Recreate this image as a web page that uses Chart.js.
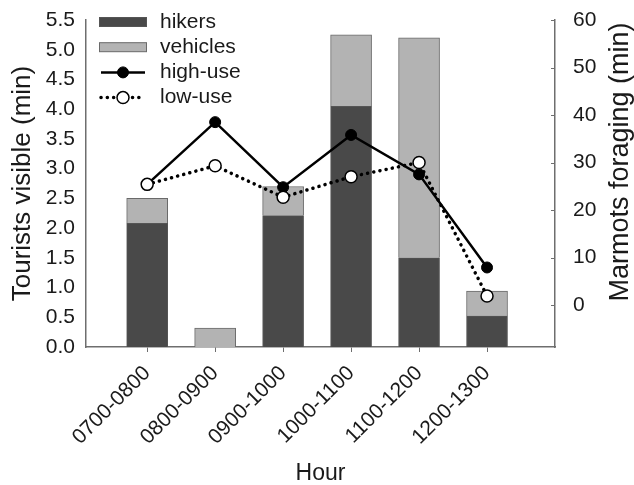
<!DOCTYPE html>
<html>
<head>
<meta charset="utf-8">
<script src="https://cdn.jsdelivr.net/npm/chart.js@4"></script>
<style>
  html, body { margin: 0; padding: 0; background: #fff; }
  #wrap { width: 634px; height: 485px; }
</style>
</head>
<body>
<div id="wrap"><canvas id="chart" width="634" height="485"></canvas></div>
<script>
const hours = ["0700-0800", "0800-0900", "0900-1000", "1000-1100", "1100-1200", "1200-1300"];
const hikers = [2.08, 0, 2.21, 4.05, 1.50, 0.52];
const vehicles = [0.42, 0.32, 0.49, 1.20, 3.70, 0.42];
const highUse = [25.4, 38.5, 24.8, 35.8, 27.5, 7.9];
const lowUse = [25.4, 29.3, 22.7, 27.0, 30.0, 1.9];
const rightTicks = [0, 10, 20, 30, 40, 50, 60];

const FONT = '"Liberation Sans", Arial, sans-serif';
const TEXT = "#1a1a1a";
const AXIS = "#6e6e6e";
const DARK = "#494949";
const LIGHT = "#b3b3b3";

const xy = arr => arr.map((v, i) => ({ x: i, y: v }));

// keep the plot box fixed: side axes get a set width, no label overhang padding
const fixWidth = w => s => { s.width = w; s.paddingTop = 0; s.paddingBottom = 0; };

/* legend + right title + inward ticks */
const extras = {
  id: "extras",
  afterDraw(chart) {
    const ctx = chart.ctx;
    const area = chart.chartArea;
    const y1 = chart.scales.y1;
    ctx.save();

    // small inward ticks on the right axis
    ctx.strokeStyle = AXIS;
    ctx.lineWidth = 1;
    y1.ticks.forEach(t => {
      const py = Math.round(y1.getPixelForValue(t.value)) + 0.5;
      ctx.beginPath();
      ctx.moveTo(area.right - 4, py);
      ctx.lineTo(area.right, py);
      ctx.stroke();
    });

    // right axis title, reads bottom to top
    ctx.fillStyle = TEXT;
    ctx.font = "27px " + FONT;
    ctx.translate(628, 162);
    ctx.rotate(-Math.PI / 2);
    ctx.textAlign = "center";
    ctx.textBaseline = "alphabetic";
    ctx.fillText("Marmots foraging (min)", 0, 0);
    ctx.setTransform(1, 0, 0, 1, 0, 0);

    // legend
    const ds = chart.data.datasets;
    const x0 = 99, x1 = 147, tx = 160;
    ctx.font = "21px " + FONT;
    ctx.textAlign = "left";
    ctx.textBaseline = "middle";
    ds.forEach((d, i) => {
      const cy = 22 + i * 25.2;
      if (d.type === "bar") {
        ctx.fillStyle = d.backgroundColor;
        ctx.strokeStyle = d.borderColor;
        ctx.lineWidth = 1;
        ctx.fillRect(x0, cy - 4.5, x1 - x0, 9);
        ctx.strokeRect(x0 + 0.5, cy - 4.5, x1 - x0 - 1, 9);
      } else {
        ctx.strokeStyle = d.borderColor;
        ctx.lineWidth = d.borderWidth;
        ctx.lineCap = d.borderCapStyle || "butt";
        ctx.setLineDash(d.borderDash || []);
        ctx.beginPath();
        ctx.moveTo(x0 + 2, cy);
        ctx.lineTo(x1 - 2, cy);
        ctx.stroke();
        ctx.setLineDash([]);
        ctx.lineCap = "butt";
        ctx.beginPath();
        ctx.arc((x0 + x1) / 2, cy, d.pointRadius, 0, Math.PI * 2);
        ctx.fillStyle = d.pointBackgroundColor;
        ctx.fill();
        ctx.lineWidth = d.pointBorderWidth;
        ctx.strokeStyle = d.pointBorderColor;
        ctx.stroke();
      }
      ctx.fillStyle = TEXT;
      ctx.fillText(d.label, tx, cy);
    });
    ctx.restore();
  }
};

new Chart(document.getElementById("chart"), {
  type: "bar",
  data: {
    datasets: [
      {
        type: "bar", label: "hikers", data: xy(hikers), yAxisID: "y",
        backgroundColor: DARK, borderColor: "#555", borderWidth: 1,
        barThickness: 41, grouped: false, order: 3
      },
      {
        type: "bar", label: "vehicles", data: xy(vehicles), yAxisID: "y",
        backgroundColor: LIGHT, borderColor: "#6a6a6a", borderWidth: 1,
        barThickness: 41, grouped: false, order: 3
      },
      {
        type: "line", label: "high-use", data: xy(highUse), yAxisID: "y1",
        borderColor: "#000", borderWidth: 2.5, tension: 0,
        pointRadius: 5.5, pointBackgroundColor: "#000", pointBorderColor: "#000",
        pointBorderWidth: 1, order: 2
      },
      {
        type: "line", label: "low-use", data: xy(lowUse), yAxisID: "y1",
        borderColor: "#000", borderWidth: 3.5, borderDash: [0.1, 6.2], borderCapStyle: "round",
        tension: 0,
        pointRadius: 6, pointBackgroundColor: "#fff", pointBorderColor: "#000",
        pointBorderWidth: 1.5, order: 1
      }
    ]
  },
  options: {
    responsive: false,
    animation: false,
    devicePixelRatio: 1,
    layout: { padding: { top: 20, left: 0, right: 0, bottom: 0 } },
    plugins: { legend: { display: false }, tooltip: { enabled: false } },
    scales: {
      x: {
        type: "linear", min: -0.9, max: 6.0, offset: false,
        afterBuildTicks: s => { s.ticks = hours.map((h, i) => ({ value: i })); },
        afterFit: s => { s.height = 138; s.paddingLeft = 0; s.paddingRight = 0; },
        ticks: {
          autoSkip: false, minRotation: 45, maxRotation: 45, padding: 9,
          color: TEXT, font: { family: FONT, size: 21 },
          callback: v => hours[Math.round(v)]
        },
        grid: { offset: false, drawOnChartArea: false, drawTicks: true, tickLength: 5, color: AXIS },
        border: { display: true, color: AXIS, width: 1.5 },
        title: {
          display: true, text: "Hour", color: TEXT,
          font: { family: FONT, size: 23 }, padding: { top: 0, bottom: -2 }
        }
      },
      y: {
        position: "left", stacked: true, min: 0, max: 5.5,
        afterFit: fixWidth(86),
        ticks: {
          stepSize: 0.5, padding: 11, color: TEXT,
          font: { family: FONT, size: 21 },
          callback: v => v.toFixed(1)
        },
        grid: { display: false, drawTicks: false },
        border: { display: true, color: AXIS, width: 1.5 },
        title: {
          display: true, text: "Tourists visible (min)", color: TEXT,
          font: { family: FONT, size: 26 }, padding: { top: 7, bottom: 0 }
        }
      },
      y1: {
        position: "right", min: -8.84, max: 60,
        afterBuildTicks: s => { s.ticks = rightTicks.map(v => ({ value: v })); },
        afterFit: fixWidth(79),
        ticks: { padding: 18, color: TEXT, font: { family: FONT, size: 21 } },
        grid: { display: false, drawTicks: false },
        border: { display: true, color: AXIS, width: 1.5 }
      }
    }
  },
  plugins: [extras]
});
</script>
</body>
</html>
